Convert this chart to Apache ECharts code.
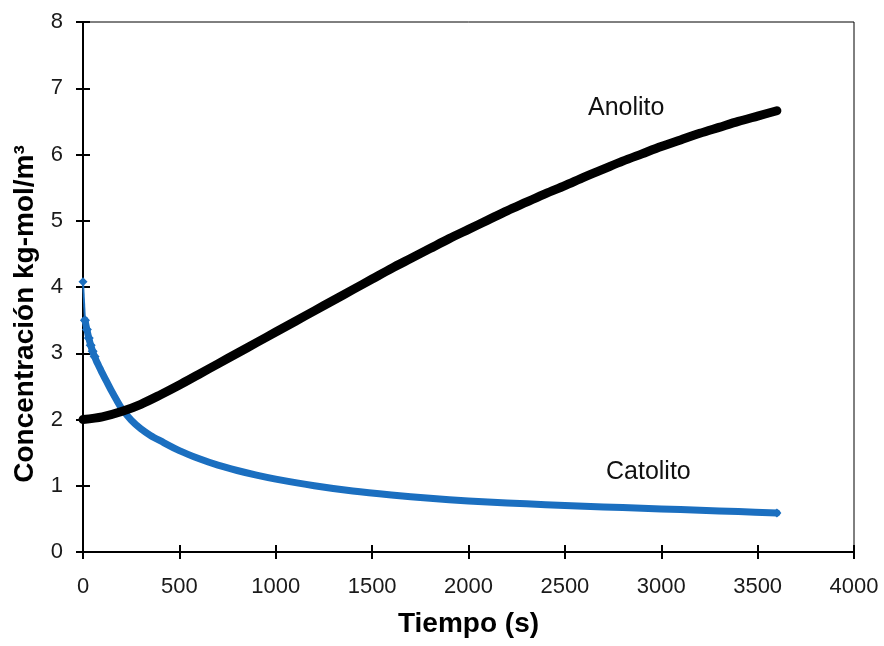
<!DOCTYPE html>
<html>
<head>
<meta charset="utf-8">
<style>
  html, body { margin: 0; padding: 0; background: #ffffff; }
  #chart { width: 884px; height: 646px; }
</style>
<script src="https://cdn.jsdelivr.net/npm/echarts@6/dist/echarts.min.js"></script>
</head>
<body>
<div id="chart"></div>
<script>
// ---- data ----
const xTicks = [0, 500, 1000, 1500, 2000, 2500, 3000, 3500, 4000];
const yTicks = [0, 1, 2, 3, 4, 5, 6, 7, 8];

const anolitoTime = [0, 100, 200, 300, 400, 500, 600, 700, 800, 900, 1000, 1100, 1200, 1300, 1400, 1500, 1600, 1700, 1800, 1900, 2000, 2100, 2200, 2300, 2400, 2500, 2600, 2700, 2800, 2900, 3000, 3100, 3200, 3300, 3400, 3500, 3600];
const anolitoConc = [2.00, 2.04, 2.12, 2.23, 2.37, 2.52, 2.68, 2.84, 3.00, 3.16, 3.32, 3.48, 3.64, 3.80, 3.96, 4.12, 4.28, 4.43, 4.58, 4.73, 4.87, 5.01, 5.15, 5.28, 5.41, 5.53, 5.66, 5.78, 5.90, 6.01, 6.12, 6.22, 6.32, 6.41, 6.50, 6.58, 6.66];

const catolitoTime = [0, 10, 20, 30, 40, 50, 60, 70, 80, 90, 100, 125, 150, 175, 200, 250, 300, 350, 400, 500, 600, 700, 800, 900, 1000, 1200, 1400, 1600, 1800, 2000, 2200, 2400, 2600, 2800, 3000, 3200, 3400, 3600];
const catolitoConc = [4.08, 3.50, 3.36, 3.23, 3.12, 3.03, 2.95, 2.88, 2.82, 2.76, 2.70, 2.56, 2.42, 2.29, 2.17, 1.99, 1.86, 1.76, 1.68, 1.53, 1.41, 1.31, 1.23, 1.16, 1.10, 1.00, 0.92, 0.86, 0.81, 0.77, 0.74, 0.715, 0.69, 0.67, 0.65, 0.63, 0.61, 0.59];

const seriesNames = ['Anolito', 'Catolito'];
const xTitle = 'Tiempo (s)';
const yTitle = 'Concentración kg-mol/m³';

// ---- build chart ----
const pairs = (t, v) => t.map((x, i) => [x, v[i]]);
const anoData = pairs(anolitoTime, anolitoConc);
const catData = pairs(catolitoTime, catolitoConc);

const BLUE = '#1b6fc0';
const FONT = "'Liberation Sans', Arial, sans-serif";

const chart = echarts.init(document.getElementById('chart'), null, { renderer: 'canvas' });

const baseX = {
  type: 'value', min: xTicks[0], max: xTicks[xTicks.length - 1], interval: 500,
  splitLine: { show: false }
};
const baseY = {
  type: 'value', min: yTicks[0], max: yTicks[yTicks.length - 1], interval: 1,
  splitLine: { show: false }
};
const plain = v => String(v);

chart.setOption({
  animation: false,
  backgroundColor: '#ffffff',
  grid: { left: 83, right: 30, top: 22, bottom: 94, show: true, borderColor: '#000', borderWidth: 1, backgroundColor: 'transparent' },
  xAxis: [
    Object.assign({}, baseX, {
      position: 'bottom',
      name: xTitle, nameLocation: 'middle', nameGap: 58,
      nameTextStyle: { fontFamily: FONT, fontSize: 28, fontWeight: 'bold', color: '#000' },
      axisLine: { show: true, lineStyle: { color: '#000', width: 2 } },
      axisTick: { show: true, inside: false, length: 7, lineStyle: { color: '#000', width: 2 } },
      axisLabel: { show: true, margin: 24, fontFamily: FONT, fontSize: 22, color: '#1a1a1a', formatter: plain }
    }),
    Object.assign({}, baseX, {
      position: 'bottom',
      axisLine: { show: false },
      axisTick: { show: true, inside: true, length: 7, lineStyle: { color: '#000', width: 2 } },
      axisLabel: { show: false }
    })
  ],
  yAxis: [
    Object.assign({}, baseY, {
      position: 'left',
      name: yTitle, nameLocation: 'middle', nameGap: 44, nameRotate: 90,
      nameTextStyle: { fontFamily: FONT, fontSize: 28, fontWeight: 'bold', color: '#000', padding: [0, 54, 0, 0] },
      axisLine: { show: true, lineStyle: { color: '#000', width: 2 } },
      axisTick: { show: true, inside: false, length: 7, lineStyle: { color: '#000', width: 2 } },
      axisLabel: { show: true, margin: 20, fontFamily: FONT, fontSize: 22, color: '#1a1a1a', formatter: plain }
    }),
    Object.assign({}, baseY, {
      position: 'left',
      axisLine: { show: false },
      axisTick: { show: true, inside: true, length: 7, lineStyle: { color: '#000', width: 2 } },
      axisLabel: { show: false }
    })
  ],
  series: [
    {
      name: seriesNames[1] + '-inicio', type: 'line', xAxisIndex: 0, yAxisIndex: 0,
      data: catData.slice(0, 2),
      symbol: 'diamond', symbolSize: 9, showSymbol: true,
      lineStyle: { color: BLUE, width: 2 },
      itemStyle: { color: BLUE, borderWidth: 0 },
      z: 3
    },
    {
      name: seriesNames[1], type: 'line', xAxisIndex: 0, yAxisIndex: 0,
      data: catData.slice(1),
      smooth: 0.3,
      symbol: 'diamond',
      symbolSize: function (v) { return v[0] <= 60 ? 10 : (v[0] === 3600 ? 9 : 0); },
      showSymbol: true,
      lineStyle: { color: BLUE, width: 7, cap: 'round', join: 'round' },
      itemStyle: { color: BLUE, borderWidth: 0 },
      z: 3
    },
    {
      name: seriesNames[0], type: 'line', xAxisIndex: 0, yAxisIndex: 0,
      data: anoData,
      smooth: 0.3,
      showSymbol: false,
      lineStyle: { color: '#000', width: 9, cap: 'round', join: 'round' },
      z: 4
    }
  ],
  graphic: [
    { type: 'text', left: 588, top: 96, style: { text: seriesNames[0], font: "25px 'Liberation Sans', Arial, sans-serif", fill: '#111' } },
    { type: 'text', left: 606, top: 460, style: { text: seriesNames[1], font: "25px 'Liberation Sans', Arial, sans-serif", fill: '#111' } }
  ]
});
</script>
</body>
</html>
